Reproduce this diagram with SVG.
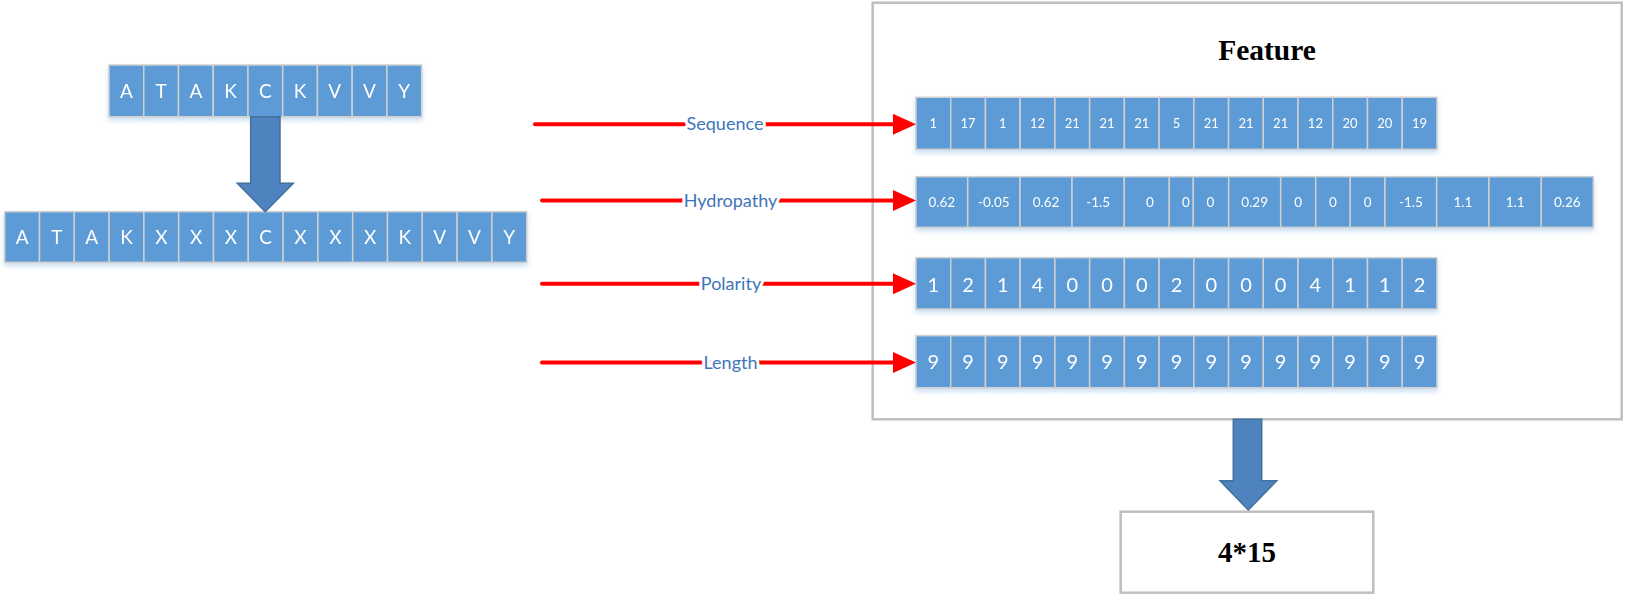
<svg xmlns="http://www.w3.org/2000/svg" width="1630" height="606" viewBox="0 0 1630 606">
<defs>
<style>
.cell{fill:#5b9bd5;stroke:#cfcfcf;stroke-width:1.5}
.ct{font-family:Lato,"Open Sans","Liberation Sans",sans-serif;fill:#ffffff;text-anchor:middle}
.aa{font-size:19px}
.s1{font-size:13px}
.s2{font-size:13.5px}
.s3{font-size:20px}
.frame{fill:#ffffff;stroke:#bfbfbf;stroke-width:2.5}
.title{font-family:"Liberation Serif","Times New Roman",serif;font-weight:bold;fill:#000;text-anchor:middle}
.red{stroke:#ff0000;stroke-width:4;stroke-linecap:round;fill:none}
.lbl{font-family:Lato,"Open Sans","Liberation Sans",sans-serif;font-size:18px;fill:#3e75b8;text-anchor:middle;stroke:#ffffff;stroke-width:6;paint-order:stroke;stroke-linejoin:round}
.blk{fill:#4f83bf;stroke:#41719c;stroke-width:1.5}
</style>
<marker id="rh" markerUnits="userSpaceOnUse" markerWidth="24" markerHeight="22" refX="7" refY="10.5" orient="auto">
<path d="M0,0 L23,10.5 L0,21 Z" fill="#ff0000"/>
</marker>
<filter id="sh" x="-5%" y="-20%" width="110%" height="160%">
<feDropShadow dx="0" dy="3" stdDeviation="2.5" flood-color="#9dc3e6" flood-opacity="0.55"/>
</filter>
</defs>
<rect width="1630" height="606" fill="#ffffff"/>

<g id="seq-original" filter="url(#sh)">
<rect class="cell" x="109" y="65" width="34.74" height="51.7"/>
<rect class="cell" x="143.74" y="65" width="34.74" height="51.7"/>
<rect class="cell" x="178.48" y="65" width="34.74" height="51.7"/>
<rect class="cell" x="213.22" y="65" width="34.74" height="51.7"/>
<rect class="cell" x="247.96" y="65" width="34.74" height="51.7"/>
<rect class="cell" x="282.7" y="65" width="34.74" height="51.7"/>
<rect class="cell" x="317.44" y="65" width="34.74" height="51.7"/>
<rect class="cell" x="352.18" y="65" width="34.74" height="51.7"/>
<rect class="cell" x="386.92" y="65" width="34.74" height="51.7"/>
<g class="ct aa">
<text x="126.37" y="98.3">A</text><text x="161.11" y="98.3">T</text><text x="195.85" y="98.3">A</text><text x="230.59" y="98.3">K</text><text x="265.33" y="98.3">C</text><text x="300.07" y="98.3">K</text><text x="334.81" y="98.3">V</text><text x="369.55" y="98.3">V</text><text x="404.29" y="98.3">Y</text>
</g>
</g>

<g id="seq-padded" filter="url(#sh)">
<rect class="cell" x="4.7" y="211.7" width="34.8" height="50.6"/>
<rect class="cell" x="39.5" y="211.7" width="34.8" height="50.6"/>
<rect class="cell" x="74.3" y="211.7" width="34.8" height="50.6"/>
<rect class="cell" x="109.1" y="211.7" width="34.8" height="50.6"/>
<rect class="cell" x="143.9" y="211.7" width="34.8" height="50.6"/>
<rect class="cell" x="178.7" y="211.7" width="34.8" height="50.6"/>
<rect class="cell" x="213.5" y="211.7" width="34.8" height="50.6"/>
<rect class="cell" x="248.3" y="211.7" width="34.8" height="50.6"/>
<rect class="cell" x="283.1" y="211.7" width="34.8" height="50.6"/>
<rect class="cell" x="317.9" y="211.7" width="34.8" height="50.6"/>
<rect class="cell" x="352.7" y="211.7" width="34.8" height="50.6"/>
<rect class="cell" x="387.5" y="211.7" width="34.8" height="50.6"/>
<rect class="cell" x="422.3" y="211.7" width="34.8" height="50.6"/>
<rect class="cell" x="457.1" y="211.7" width="34.8" height="50.6"/>
<rect class="cell" x="491.9" y="211.7" width="34.8" height="50.6"/>
<g class="ct aa">
<text x="22.1" y="244">A</text><text x="56.9" y="244">T</text><text x="91.7" y="244">A</text><text x="126.5" y="244">K</text><text x="161.3" y="244">X</text><text x="196.1" y="244">X</text><text x="230.9" y="244">X</text><text x="265.7" y="244">C</text><text x="300.5" y="244">X</text><text x="335.3" y="244">X</text><text x="370.1" y="244">X</text><text x="404.9" y="244">K</text><text x="439.7" y="244">V</text><text x="474.5" y="244">V</text><text x="509.3" y="244">Y</text>
</g>
</g>

<g id="feature-box">
<rect class="frame" x="872.7" y="2.7" width="749" height="416.6"/>
<text class="title" x="1267" y="60" font-size="29.5">Feature</text>
</g>

<g id="row-sequence" filter="url(#sh)">
<rect class="cell" x="916" y="97.3" width="34.73" height="52"/>
<rect class="cell" x="950.73" y="97.3" width="34.73" height="52"/>
<rect class="cell" x="985.46" y="97.3" width="34.73" height="52"/>
<rect class="cell" x="1020.19" y="97.3" width="34.73" height="52"/>
<rect class="cell" x="1054.92" y="97.3" width="34.73" height="52"/>
<rect class="cell" x="1089.65" y="97.3" width="34.73" height="52"/>
<rect class="cell" x="1124.38" y="97.3" width="34.73" height="52"/>
<rect class="cell" x="1159.11" y="97.3" width="34.73" height="52"/>
<rect class="cell" x="1193.84" y="97.3" width="34.73" height="52"/>
<rect class="cell" x="1228.57" y="97.3" width="34.73" height="52"/>
<rect class="cell" x="1263.3" y="97.3" width="34.73" height="52"/>
<rect class="cell" x="1298.03" y="97.3" width="34.73" height="52"/>
<rect class="cell" x="1332.76" y="97.3" width="34.73" height="52"/>
<rect class="cell" x="1367.49" y="97.3" width="34.73" height="52"/>
<rect class="cell" x="1402.22" y="97.3" width="34.73" height="52"/>
<g class="ct s1">
<text x="933.37" y="128.3">1</text><text x="968.1" y="128.3">17</text><text x="1002.83" y="128.3">1</text><text x="1037.56" y="128.3">12</text><text x="1072.29" y="128.3">21</text><text x="1107.02" y="128.3">21</text><text x="1141.75" y="128.3">21</text><text x="1176.48" y="128.3">5</text><text x="1211.21" y="128.3">21</text><text x="1245.94" y="128.3">21</text><text x="1280.67" y="128.3">21</text><text x="1315.4" y="128.3">12</text><text x="1350.13" y="128.3">20</text><text x="1384.86" y="128.3">20</text><text x="1419.59" y="128.3">19</text>
</g>
</g>

<g id="row-hydropathy" filter="url(#sh)">
<rect class="cell" x="916" y="176.7" width="51.7" height="50.6"/>
<rect class="cell" x="967.7" y="176.7" width="52.3" height="50.6"/>
<rect class="cell" x="1020" y="176.7" width="52" height="50.6"/>
<rect class="cell" x="1072" y="176.7" width="52.3" height="50.6"/>
<rect class="cell" x="1124.3" y="176.7" width="45" height="50.6"/>
<rect class="cell" x="1169.3" y="176.7" width="24" height="50.6"/>
<rect class="cell" x="1193.3" y="176.7" width="35.4" height="50.6"/>
<rect class="cell" x="1228.7" y="176.7" width="52" height="50.6"/>
<rect class="cell" x="1280.7" y="176.7" width="35" height="50.6"/>
<rect class="cell" x="1315.7" y="176.7" width="34.6" height="50.6"/>
<rect class="cell" x="1350.3" y="176.7" width="34.7" height="50.6"/>
<rect class="cell" x="1385" y="176.7" width="51.7" height="50.6"/>
<rect class="cell" x="1436.7" y="176.7" width="52.3" height="50.6"/>
<rect class="cell" x="1489" y="176.7" width="52.3" height="50.6"/>
<rect class="cell" x="1541.3" y="176.7" width="52" height="50.6"/>
<g class="ct s2">
<text x="941.85" y="207.3">0.62</text><text x="993.85" y="207.3">-0.05</text><text x="1046" y="207.3">0.62</text><text x="1098.15" y="207.3">-1.5</text><text x="1150" y="207.3">0</text><text x="1186" y="207.3">0</text><text x="1210.5" y="207.3">0</text><text x="1254.7" y="207.3">0.29</text><text x="1298.2" y="207.3">0</text><text x="1333" y="207.3">0</text><text x="1367.65" y="207.3">0</text><text x="1410.85" y="207.3">-1.5</text><text x="1462.85" y="207.3">1.1</text><text x="1515.15" y="207.3">1.1</text><text x="1567.3" y="207.3">0.26</text>
</g>
</g>

<g id="row-polarity" filter="url(#sh)">
<rect class="cell" x="916" y="257.7" width="34.73" height="51.3"/>
<rect class="cell" x="950.73" y="257.7" width="34.73" height="51.3"/>
<rect class="cell" x="985.46" y="257.7" width="34.73" height="51.3"/>
<rect class="cell" x="1020.19" y="257.7" width="34.73" height="51.3"/>
<rect class="cell" x="1054.92" y="257.7" width="34.73" height="51.3"/>
<rect class="cell" x="1089.65" y="257.7" width="34.73" height="51.3"/>
<rect class="cell" x="1124.38" y="257.7" width="34.73" height="51.3"/>
<rect class="cell" x="1159.11" y="257.7" width="34.73" height="51.3"/>
<rect class="cell" x="1193.84" y="257.7" width="34.73" height="51.3"/>
<rect class="cell" x="1228.57" y="257.7" width="34.73" height="51.3"/>
<rect class="cell" x="1263.3" y="257.7" width="34.73" height="51.3"/>
<rect class="cell" x="1298.03" y="257.7" width="34.73" height="51.3"/>
<rect class="cell" x="1332.76" y="257.7" width="34.73" height="51.3"/>
<rect class="cell" x="1367.49" y="257.7" width="34.73" height="51.3"/>
<rect class="cell" x="1402.22" y="257.7" width="34.73" height="51.3"/>
<g class="ct s3">
<text x="933.37" y="291.7">1</text><text x="968.1" y="291.7">2</text><text x="1002.83" y="291.7">1</text><text x="1037.56" y="291.7">4</text><text x="1072.29" y="291.7">0</text><text x="1107.02" y="291.7">0</text><text x="1141.75" y="291.7">0</text><text x="1176.48" y="291.7">2</text><text x="1211.21" y="291.7">0</text><text x="1245.94" y="291.7">0</text><text x="1280.67" y="291.7">0</text><text x="1315.4" y="291.7">4</text><text x="1350.13" y="291.7">1</text><text x="1384.86" y="291.7">1</text><text x="1419.59" y="291.7">2</text>
</g>
</g>

<g id="row-length" filter="url(#sh)">
<rect class="cell" x="916" y="335.7" width="34.73" height="52"/>
<rect class="cell" x="950.73" y="335.7" width="34.73" height="52"/>
<rect class="cell" x="985.46" y="335.7" width="34.73" height="52"/>
<rect class="cell" x="1020.19" y="335.7" width="34.73" height="52"/>
<rect class="cell" x="1054.92" y="335.7" width="34.73" height="52"/>
<rect class="cell" x="1089.65" y="335.7" width="34.73" height="52"/>
<rect class="cell" x="1124.38" y="335.7" width="34.73" height="52"/>
<rect class="cell" x="1159.11" y="335.7" width="34.73" height="52"/>
<rect class="cell" x="1193.84" y="335.7" width="34.73" height="52"/>
<rect class="cell" x="1228.57" y="335.7" width="34.73" height="52"/>
<rect class="cell" x="1263.3" y="335.7" width="34.73" height="52"/>
<rect class="cell" x="1298.03" y="335.7" width="34.73" height="52"/>
<rect class="cell" x="1332.76" y="335.7" width="34.73" height="52"/>
<rect class="cell" x="1367.49" y="335.7" width="34.73" height="52"/>
<rect class="cell" x="1402.22" y="335.7" width="34.73" height="52"/>
<g class="ct s3">
<text x="933.37" y="369">9</text><text x="968.1" y="369">9</text><text x="1002.83" y="369">9</text><text x="1037.56" y="369">9</text><text x="1072.29" y="369">9</text><text x="1107.02" y="369">9</text><text x="1141.75" y="369">9</text><text x="1176.48" y="369">9</text><text x="1211.21" y="369">9</text><text x="1245.94" y="369">9</text><text x="1280.67" y="369">9</text><text x="1315.4" y="369">9</text><text x="1350.13" y="369">9</text><text x="1384.86" y="369">9</text><text x="1419.59" y="369">9</text>
</g>
</g>

<g id="result-box">
<rect class="frame" x="1120.7" y="511.7" width="252.6" height="81"/>
<text class="title" x="1247" y="561.7" font-size="29">4*15</text>
</g>

<g id="connectors">
<path class="blk" d="M250.7,116.7 L280,116.7 L280,183.3 L293.3,183.3 L265.3,211.7 L237.3,183.3 L250.7,183.3 Z"/>
<path class="blk" d="M1233.3,419.3 L1261.7,419.3 L1261.7,480.7 L1276.7,480.7 L1248.3,510 L1220,480.7 L1233.3,480.7 Z"/>
<line class="red" x1="535" y1="124.3" x2="900" y2="124.3" marker-end="url(#rh)"/>
<line class="red" x1="542" y1="200.5" x2="900" y2="200.5" marker-end="url(#rh)"/>
<line class="red" x1="542" y1="283.8" x2="900" y2="283.8" marker-end="url(#rh)"/>
<line class="red" x1="542" y1="362.5" x2="900" y2="362.5" marker-end="url(#rh)"/>
<text class="lbl" x="725" y="130">Sequence</text>
<text class="lbl" x="730.5" y="206.7">Hydropathy</text>
<text class="lbl" x="731" y="290">Polarity</text>
<text class="lbl" x="730.5" y="369">Length</text>
</g>
</svg>
